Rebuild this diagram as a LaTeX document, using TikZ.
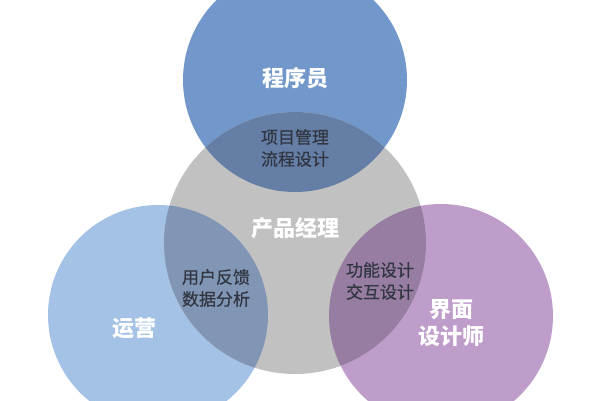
\documentclass[tikz,border=0pt]{standalone}
\usepackage{fontspec}
\newfontfamily\cjk{Noto Sans CJK SC}
\newfontfamily\cjkmed[FakeBold=0.6]{Noto Sans CJK SC}
\definecolor{topblue}{RGB}{114,152,203}
\definecolor{leftblue}{RGB}{164,193,230}
\definecolor{rpurple}{RGB}{191,157,203}
\definecolor{pmgray}{RGB}{193,193,193}
\definecolor{toplens}{RGB}{101,126,166}
\definecolor{leftlens}{RGB}{128,150,180}
\definecolor{rightlens}{RGB}{151,125,161}
\definecolor{darktxt}{RGB}{50,54,66}
\tikzset{
  biglabel/.style={text=white, font=\cjk\bfseries\fontsize{22}{27}\selectfont, align=center, inner sep=0pt},
  smalllabel/.style={text=darktxt, font=\cjkmed\fontsize{17}{22}\selectfont, align=center, inner sep=0pt},
}
\begin{document}
\begin{tikzpicture}[x=1pt,y=-1pt]
\useasboundingbox (0,0) rectangle (600,400);
\fill[white] (0,0) rectangle (600,400);
% base circles
\fill[topblue] (295,80) circle (112);
\fill[leftblue] (158,315) circle (110);
\fill[rpurple] (441,316) circle (112);
\fill[pmgray] (295,243) circle (131);
% lenses
\begin{scope}
  \clip (295,243) circle (131);
  \fill[toplens] (295,80) circle (112);
  \fill[leftlens] (158,315) circle (110);
  \fill[rightlens] (441,316) circle (112);
\end{scope}
% labels
\node[biglabel] (prog) at (295,78) {程序员};
\node[smalllabel] (pmtop) at (295,148) {项目管理\\流程设计};
\node[biglabel] (pm) at (295,228) {产品经理};
\node[smalllabel] (pmleft) at (216,288) {用户反馈\\数据分析};
\node[biglabel] (ops) at (134,328) {运营};
\node[smalllabel] (pmright) at (380,281) {功能设计\\交互设计};
\node[biglabel, text width=80pt] (ui) at (451,323) {界面\\设计师};
\end{tikzpicture}
\end{document}
